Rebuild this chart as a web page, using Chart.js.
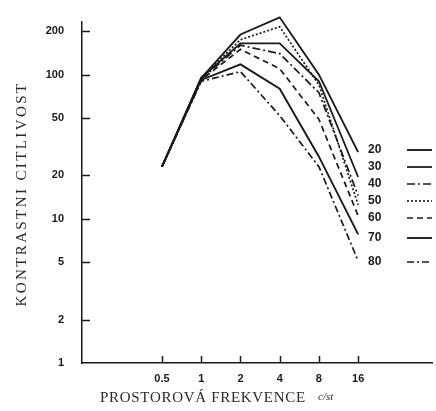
<!DOCTYPE html>
<html>
<head>
<meta charset="utf-8">
<script src="https://cdn.jsdelivr.net/npm/chart.js@4"></script>
<style>
  html, body { margin: 0; padding: 0; background: #fff; }
  canvas { display: block; }
</style>
</head>
<body>
<canvas id="csf_chart" width="436" height="411"></canvas>
<script>
// spatial frequency (c/st) and age groups
const freqs = [0.5, 1, 2, 4, 8, 16];
const ages = ['20', '30', '40', '50', '60', '70', '80'];
const y_ticks = [1, 2, 5, 10, 20, 50, 100, 200];

// contrast sensitivity per age group
const cs_20 = [23, 95, 190, 250, 100, 29];
const cs_30 = [23, 95, 165, 165, 90, 19.5];
const cs_40 = [23, 93, 160, 140, 75, 14.5];
const cs_50 = [23, 95, 175, 215, 85, 12.5];
const cs_60 = [23, 92, 150, 110, 49, 10.5];
const cs_70 = [23, 92, 118, 80, 27, 7.8];
const cs_80 = [23, 90, 105, 52, 23, 5.1];

const series = [cs_20, cs_30, cs_40, cs_50, cs_60, cs_70, cs_80];

// line styles
const dash_styles = [[], [], [8, 3, 2, 3], [2, 2], [6, 4], [], [7, 3, 2, 3]];
const line_widths = [1.9, 1.8, 1.7, 1.7, 1.7, 1.9, 1.7];
const ink = '#1a1a1a';

const datasets = series.map((vals, i) => ({
	label: ages[i],
	data: vals.map((v, j) => ({x: freqs[j], y: v})),
	borderColor: ink,
	backgroundColor: ink,
	borderWidth: line_widths[i],
	borderDash: dash_styles[i],
	pointRadius: 0,
	tension: 0,
	fill: false,
	clip: false
}));

// tick marks inside the axes, titles and the legend
const decor = {
	id: 'decor',
	afterDraw(chart){
		const ctx = chart.ctx;
		const xs = chart.scales.x, ys = chart.scales.y;
		const area = chart.chartArea;
		ctx.save();
		ctx.strokeStyle = ink;
		ctx.lineWidth = 1.5;
		y_ticks.forEach(v => {
			if(v == 1) return;
			const py = Math.round(ys.getPixelForValue(v)) + 0.5;
			ctx.beginPath();
			ctx.moveTo(area.left, py);
			ctx.lineTo(area.left + 8, py);
			ctx.stroke();
		});
		freqs.forEach(v => {
			const px = Math.round(xs.getPixelForValue(v)) + 0.5;
			ctx.beginPath();
			ctx.moveTo(px, area.bottom);
			ctx.lineTo(px, area.bottom - 7);
			ctx.stroke();
		});

		// axis titles
		ctx.fillStyle = '#2a2a2a';
		ctx.textBaseline = 'middle';
		ctx.save();
		ctx.translate(22, 194);
		ctx.rotate(-Math.PI / 2);
		ctx.font = '15px "Liberation Serif"';
		ctx.letterSpacing = '2.4px';
		ctx.textAlign = 'center';
		ctx.fillText('KONTRASTNI CITLIVOST', 0, 0);
		ctx.restore();

		ctx.textAlign = 'left';
		ctx.font = '15px "Liberation Serif"';
		ctx.letterSpacing = '0.7px';
		ctx.fillText('PROSTOROVÁ FREKVENCE', 100, 398);
		ctx.letterSpacing = '0px';
		ctx.font = 'italic 11px "Liberation Serif"';
		ctx.fillText('c/st', 318, 397);

		// legend
		const legend_y = [150, 167, 184, 201, 218, 238, 262];
		ctx.font = 'bold 12px "Liberation Sans"';
		ages.forEach((a, i) => {
			ctx.fillStyle = ink;
			ctx.fillText(a, 368, legend_y[i]);
			ctx.setLineDash(dash_styles[i]);
			ctx.lineWidth = line_widths[i];
			ctx.beginPath();
			ctx.moveTo(407, legend_y[i]);
			ctx.lineTo(432, legend_y[i]);
			ctx.stroke();
		});
		ctx.restore();
	}
};

const tick_font = {family: '"Liberation Sans"', size: 11, weight: 'bold'};

new Chart(document.getElementById('csf_chart').getContext('2d'), {
	type: 'line',
	data: {datasets: datasets},
	options: {
		responsive: false,
		animation: false,
		layout: {padding: {top: 22, right: 4, left: 0, bottom: 0}},
		plugins: {legend: {display: false}, tooltip: {enabled: false}},
		scales: {
			x: {
				type: 'logarithmic',
				min: 0.1216,
				max: 59,
				afterBuildTicks: s => { s.ticks = freqs.map(v => ({value: v})); },
				afterFit: s => { s.height = 48; },
				ticks: {
					autoSkip: false,
					maxRotation: 0,
					padding: 1,
					color: ink,
					font: tick_font,
					callback: v => String(v)
				},
				grid: {display: false},
				border: {display: true, color: ink, width: 1.5}
			},
			y: {
				type: 'logarithmic',
				min: 1,
				max: 232,
				afterBuildTicks: s => { s.ticks = y_ticks.map(v => ({value: v})); },
				afterFit: s => { s.width = 82; },
				ticks: {
					autoSkip: false,
					padding: 10,
					color: ink,
					font: tick_font,
					callback: v => String(v)
				},
				grid: {display: false},
				border: {display: true, color: ink, width: 1.5}
			}
		}
	},
	plugins: [decor]
});
</script>
</body>
</html>
